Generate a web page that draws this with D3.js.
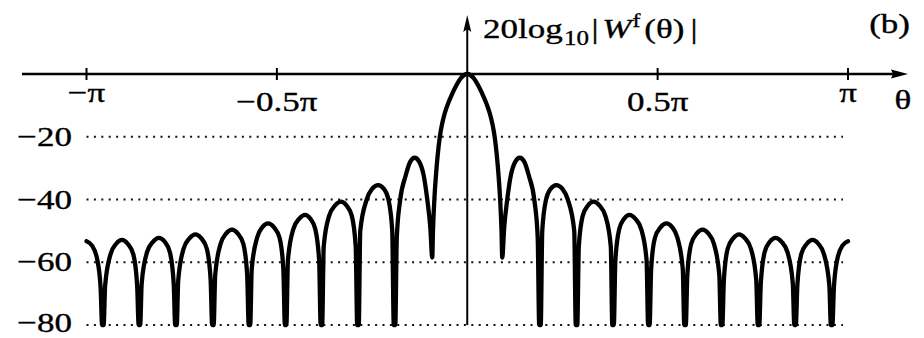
<!DOCTYPE html>
<html>
<head>
<meta charset="utf-8">
<script src="https://cdn.jsdelivr.net/npm/d3@7"></script>
<style>
  html, body { margin: 0; padding: 0; background: #fff; }
  svg { display: block; }
  text { font-family: "Liberation Serif", "Times New Roman", serif; fill: #000; stroke: #000; stroke-width: 0.35px; }
</style>
</head>
<body>
<svg id="chart" width="924" height="338"></svg>
<script>
// Frequency axis ticks, in units of pi
const xTicks = [-1, -0.5, 0.5, 1];
const xTickLabels = ["\u2212\u03c0", "\u22120.5\u03c0", "0.5\u03c0", "\u03c0"];
// Level gridlines, dB
const yTicks = [-20, -40, -60, -80];
const yTickLabels = ["\u221220", "\u221240", "\u221260", "\u221280"];

// Magnitude response samples [theta / pi, dB], clipped at -80 dB
const leftSideLobes = [
  [[-1.000,-53.3],[-0.986,-54.6],[-0.972,-59],[-0.963,-68],[-0.959,-80]],
  [[-0.955,-80],[-0.951,-67.4],[-0.937,-57.5],[-0.922,-54.1],[-0.907,-52.9],[-0.892,-54.1],[-0.877,-57.5],[-0.867,-67.4],[-0.863,-80]],
  [[-0.859,-80],[-0.855,-66.7],[-0.841,-56.8],[-0.825,-53.4],[-0.810,-52.2],[-0.795,-53.4],[-0.781,-56.8],[-0.771,-66.7],[-0.767,-80]],
  [[-0.763,-80],[-0.759,-65.6],[-0.745,-55.7],[-0.729,-52.3],[-0.714,-51.1],[-0.699,-52.3],[-0.684,-55.7],[-0.674,-65.6],[-0.670,-80]],
  [[-0.666,-80],[-0.662,-64.1],[-0.648,-54.2],[-0.633,-50.8],[-0.618,-49.6],[-0.603,-50.8],[-0.588,-54.2],[-0.578,-64.1],[-0.574,-80]],
  [[-0.570,-80],[-0.566,-62.1],[-0.552,-52.2],[-0.538,-48.8],[-0.523,-47.6],[-0.508,-48.8],[-0.493,-52.2],[-0.483,-62.1],[-0.479,-80]],
  [[-0.475,-80],[-0.471,-59.4],[-0.457,-49.5],[-0.441,-46.1],[-0.426,-44.9],[-0.412,-46.1],[-0.399,-49.5],[-0.389,-59.4],[-0.385,-80]],
  [[-0.381,-80],[-0.377,-55],[-0.363,-45.3],[-0.347,-41.9],[-0.332,-40.7],[-0.317,-41.9],[-0.303,-45.3],[-0.293,-55],[-0.289,-80]],
  [[-0.285,-80],[-0.281,-50],[-0.264,-40],[-0.250,-36.6],[-0.234,-35.4],[-0.219,-36.6],[-0.207,-40],[-0.197,-50],[-0.193,-80]],
  [[-0.189,-80],[-0.185,-52],[-0.176,-40],[-0.162,-32.5],[-0.150,-28],[-0.138,-26.7],[-0.126,-28],[-0.115,-32],[-0.105,-40],[-0.097,-49]]
];
const mainLobe = [
  [-0.0919,-58.5],[-0.0900,-50],[-0.0864,-40],[-0.0820,-32],[-0.0777,-26],[-0.0720,-20],[-0.0662,-16],
  [-0.0591,-12.5],[-0.0491,-9],[-0.0391,-6.2],[-0.0281,-3.5],[-0.0181,-1.5],
  [0,0],
  [0.0181,-1.5],[0.0281,-3.5],[0.0391,-6.2],[0.0491,-9],[0.0591,-12.5],
  [0.0662,-16],[0.0720,-20],[0.0777,-26],[0.0820,-32],[0.0864,-40],[0.0900,-50],[0.0919,-58.5]
];
const rightSideLobes = [
  [[0.097,-49],[0.105,-40],[0.115,-32],[0.126,-28],[0.138,-26.7],[0.150,-28],[0.162,-32.5],[0.176,-40],[0.185,-52],[0.189,-80]],
  [[0.193,-80],[0.197,-50],[0.207,-40],[0.219,-36.6],[0.234,-35.4],[0.250,-36.6],[0.264,-40],[0.281,-50],[0.285,-80]],
  [[0.289,-80],[0.293,-55],[0.303,-45.3],[0.317,-41.9],[0.332,-40.7],[0.347,-41.9],[0.363,-45.3],[0.377,-55],[0.381,-80]],
  [[0.385,-80],[0.389,-59.4],[0.399,-49.5],[0.412,-46.1],[0.426,-44.9],[0.441,-46.1],[0.457,-49.5],[0.471,-59.4],[0.475,-80]],
  [[0.479,-80],[0.483,-62.1],[0.493,-52.2],[0.508,-48.8],[0.523,-47.6],[0.538,-48.8],[0.552,-52.2],[0.566,-62.1],[0.570,-80]],
  [[0.574,-80],[0.578,-64.1],[0.588,-54.2],[0.603,-50.8],[0.618,-49.6],[0.633,-50.8],[0.648,-54.2],[0.662,-64.1],[0.666,-80]],
  [[0.670,-80],[0.674,-65.6],[0.684,-55.7],[0.699,-52.3],[0.714,-51.1],[0.729,-52.3],[0.745,-55.7],[0.759,-65.6],[0.763,-80]],
  [[0.767,-80],[0.771,-66.7],[0.781,-56.8],[0.795,-53.4],[0.810,-52.2],[0.825,-53.4],[0.841,-56.8],[0.855,-66.7],[0.859,-80]],
  [[0.863,-80],[0.867,-67.4],[0.877,-57.5],[0.892,-54.1],[0.907,-52.9],[0.922,-54.1],[0.937,-57.5],[0.951,-67.4],[0.955,-80]],
  [[0.959,-80],[0.963,-68],[0.972,-59],[0.986,-54.6],[1.000,-53.3]]
];

const svg = d3.select("#chart");
const x = d3.scaleLinear().domain([-1, 1]).range([86.5, 848]);
const y = d3.scaleLinear().domain([0, -80]).range([74, 325]);
const x0 = x(0), y0 = y(0);
const sx = 1.25; // horizontal stretch of the serif lettering

// dotted level lines
svg.append("g").selectAll("line").data(yTicks).join("line")
  .attr("x1", x(-1)).attr("x2", 843)
  .attr("y1", d => y(d)).attr("y2", d => y(d))
  .attr("stroke", "#111").attr("stroke-width", 2)
  .attr("stroke-dasharray", "2,5.4");

// level labels (the lowest one kept inside the frame)
svg.append("g").selectAll("text").data(yTicks).join("text")
  .attr("text-anchor", "end")
  .attr("font-size", 28)
  .attr("transform", d => `translate(72,${Math.min(y(d) + 9, 331.5)}) scale(${sx},1)`)
  .text((d, i) => yTickLabels[i]);

// horizontal axis with arrow
svg.append("line").attr("x1", 22).attr("x2", 896).attr("y1", y0).attr("y2", y0)
  .attr("stroke", "#000").attr("stroke-width", 2.5);
svg.append("path").attr("d", `M908,${y0} L891,${y0 - 4.5} L893,${y0} L891,${y0 + 4.5} Z`).attr("fill", "#000");

// vertical axis with arrow
svg.append("line").attr("x1", x0).attr("x2", x0).attr("y1", y(-80)).attr("y2", 28)
  .attr("stroke", "#000").attr("stroke-width", 2);
svg.append("path").attr("d", `M${x0},15 L${x0 - 4},32 L${x0},29 L${x0 + 4},32 Z`).attr("fill", "#000");

// frequency ticks and labels
svg.append("g").selectAll("line").data(xTicks).join("line")
  .attr("x1", d => x(d)).attr("x2", d => x(d))
  .attr("y1", y0 - 6).attr("y2", y0 + 6)
  .attr("stroke", "#000").attr("stroke-width", 2);
svg.append("g").selectAll("text").data(xTicks).join("text")
  .attr("text-anchor", "middle")
  .attr("font-size", 28)
  .attr("transform", d => `translate(${x(d)},${Math.abs(d) === 1 ? 102 : 111}) scale(${sx},1)`)
  .text((d, i) => xTickLabels[i]);

// axis names
svg.append("text").attr("text-anchor", "middle").attr("font-size", 28)
  .attr("transform", `translate(903,109) scale(${sx},1)`).text("\u03b8");
svg.append("text").attr("text-anchor", "end").attr("font-size", 28)
  .attr("transform", `translate(910,33) scale(${sx},1)`).text("(b)");

const title = svg.append("text").attr("font-size", 28)
  .attr("transform", `translate(483,38) scale(${sx},1)`);
title.append("tspan").text("20log");
title.append("tspan").attr("font-size", 20).attr("dy", 7).attr("dx", 1).text("10");
title.append("tspan").attr("dy", -7).attr("dx", 2).text("|");
title.append("tspan").attr("font-style", "italic").attr("dx", 3).text("W");
title.append("tspan").attr("font-size", 19).attr("dy", -11).attr("dx", 1).text("f");
title.append("tspan").attr("dy", 11).attr("dx", 3).text("(\u03b8)");
title.append("tspan").attr("dx", 5).text("|");

// magnitude response curve
const samples = [...leftSideLobes.flat(), ...mainLobe, ...rightSideLobes.flat()];
const line = d3.line()
  .x(d => x(d[0]))
  .y(d => y(d[1]))
  .curve(d3.curveMonotoneX);
svg.append("path").datum(samples)
  .attr("d", line)
  .attr("fill", "none")
  .attr("stroke", "#000")
  .attr("stroke-width", 4.3)
  .attr("stroke-linejoin", "round")
  .attr("stroke-linecap", "round");
</script>
</body>
</html>
